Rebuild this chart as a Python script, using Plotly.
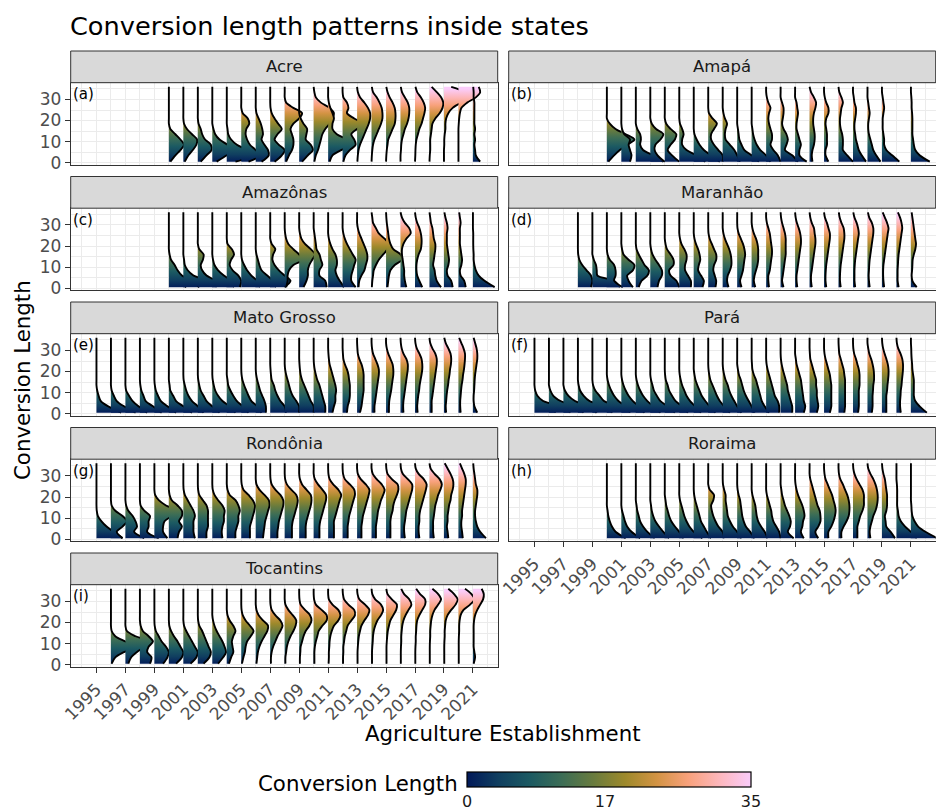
import plotly.graph_objects as go

# ---------------- data ----------------
# conversion-length knots (y) at which density half-widths (in x = year units) were read
Y_KNOTS = [0.5, 3.5, 6, 8.5, 11, 13.5, 16, 18.5, 21, 23.5, 26, 28.5, 31, 33.5, 36]

STATES = ["Acre", "Amapá", "Amazônas", "Maranhão", "Mato Grosso",
          "Pará", "Rondônia", "Roraima", "Tocantins"]
PANEL_TAGS = ["(a)", "(b)", "(c)", "(d)", "(e)", "(f)", "(g)", "(h)", "(i)"]

X_TICKS = [1995, 1997, 1999, 2001, 2003, 2005, 2007, 2009, 2011, 2013, 2015, 2017, 2019, 2021]
Y_TICKS = [0, 10, 20, 30]
CBAR_TICKS = [0, 17, 35]

ACRE_YEARS = list(range(2000, 2022))
ACRE = [
    [0.1, 0.45, 0.8, 1.05, 0.8, 0.45, 0.1],
    [0.1, 0.35, 0.65, 0.9, 0.95, 0.6, 0.25, 0.05],
    [0.2, 0.6, 0.95, 0.9, 0.5, 0.3, 0.2, 0.05],
    [0.3, 1.0, 1.5, 1.05, 0.5, 0.2, 0.08],
    [0.6, 1.8, 1.4, 0.7, 0.3, 0.1, 0.05],
    [0.5, 1.3, 1.0, 0.6, 0.4, 0.3, 0.35, 0.55, 0.45, 0.1],
    [0.4, 0.9, 0.85, 0.6, 0.4, 0.5, 0.45, 0.35, 0.2, 0.05],
    [0.3, 0.8, 1.0, 0.6, 0.3, 0.5, 0.8, 0.55, 0.3, 0.1, 0.02],
    [0.1, 0.3, 0.5, 0.6, 0.6, 0.5, 0.4, 0.6, 1.0, 1.2, 0.6, 0.1],
    [0.2, 0.6, 0.95, 0.8, 0.45, 0.5, 0.55, 0.3, 0.1],
    [0.05, 0.15, 0.3, 0.4, 0.5, 0.6, 0.8, 1.1, 1.3, 1.4, 1.1, 0.5, 0.15, 0.05],
    [0.1, 0.3, 0.9, 1.6, 1.3, 0.6, 0.3, 0.3, 0.4, 0.3, 0.15, 0.05],
    [0.05, 0.2, 0.5, 0.9, 0.8, 0.6, 1.0, 1.4, 0.8, 0.3, 0.4, 0.3, 0.05],
    [0.02, 0.05, 0.1, 0.2, 0.35, 0.5, 0.65, 0.8, 0.9, 0.9, 0.75, 0.5, 0.2, 0.05],
    [0, 0.02, 0.05, 0.1, 0.2, 0.35, 0.5, 0.65, 0.75, 0.75, 0.7, 0.55, 0.35, 0.1, 0.02],
    [0, 0.02, 0.05, 0.1, 0.15, 0.3, 0.45, 0.6, 0.65, 0.65, 0.6, 0.45, 0.25, 0.1, 0.02],
    [0, 0, 0.03, 0.05, 0.1, 0.2, 0.3, 0.45, 0.55, 0.6, 0.6, 0.5, 0.3, 0.1, 0.02],
    [0, 0.02, 0.03, 0.05, 0.1, 0.2, 0.3, 0.45, 0.55, 0.65, 0.7, 0.6, 0.4, 0.15, 0.03],
    [0, 0.02, 0.05, 0.05, 0.05, 0.1, 0.15, 0.2, 0.4, 0.7, 0.9, 0.95, 0.8, 0.5, 0.15],
    [0, 0, 0, 0.02, 0.02, 0.05, 0.1, 0.1, 0.15, 0.3, 0.6, 1.2, 2.0, 1.5, 0.5],
    [0, 0, 0, 0, 0, 0, 0, 0.02, 0.05, 0.1, 0.2, 0.6, 1.2, 1.5, 1.4],
    [0.5, 0.2, 0.15, 0.1, 0.15, 0.1, 0.15, 0.1, 0.1, 0.1, 0.1, 0.1, 0.05, 0.05, 0.02],
]

AMAPA_YEARS = list(range(2000, 2020)) + [2021]
AMAPA = [
    [0.1, 0.5, 0.9, 1.4, 1.9, 1.3, 0.6, 0.2],
    [0.6, 0.7, 0.6, 0.5, 0.6, 0.2, 0.05],
    [1.9, 1.2, 0.5, 0.3, 0.35, 0.3, 0.1],
    [1.0, 0.5, 0.3, 0.35, 0.7, 0.9, 0.4, 0.1],
    [1.0, 0.5, 0.2, 0.4, 0.7, 0.8, 0.4, 0.1],
    [1.8, 1.2, 0.5, 0.2, 0.2, 0.3, 0.2, 0.05],
    [1.8, 1.2, 0.7, 0.4, 0.2, 0.05],
    [1.0, 1.0, 0.7, 0.4, 0.2, 0.2, 0.4, 0.6, 0.3, 0.05],
    [1.2, 1.0, 0.8, 0.5, 0.2, 0.15, 0.2, 0.3, 0.15, 0.05],
    [1.5, 1.0, 0.5, 0.3, 0.15, 0.1, 0.05],
    [1.3, 1.0, 0.6, 0.35, 0.2, 0.1, 0.05],
    [1.0, 0.8, 0.5, 0.3, 0.4, 0.4, 0.3, 0.2, 0.15, 0.2, 0.3, 0.15, 0.05],
    [1.2, 0.8, 0.3, 0.4, 0.5, 0.4, 0.2, 0.1, 0.15, 0.2, 0.2, 0.1],
    [0.8, 0.3, 0.3, 0.4, 0.3, 0.2, 0.1, 0.1, 0.15, 0.2, 0.15, 0.1],
    [0.2, 0.15, 0.2, 0.3, 0.35, 0.35, 0.3, 0.25, 0.25, 0.3, 0.4, 0.45, 0.3, 0.1],
    [0.3, 0.1, 0.1, 0.2, 0.2, 0.2, 0.15, 0.1, 0.15, 0.3, 0.3, 0.15, 0.05],
    [1.0, 0.6, 0.3, 0.3, 0.3, 0.25, 0.15, 0.1, 0.1, 0.15, 0.2, 0.3, 0.2, 0.05],
    [0.9, 0.6, 0.4, 0.3, 0.2, 0.15, 0.1, 0.1, 0.15, 0.2, 0.2, 0.1, 0.05],
    [0.9, 0.6, 0.4, 0.3, 0.2, 0.1, 0.05, 0.05, 0.1, 0.15, 0.1, 0.05],
    [1.2, 0.7, 0.3, 0.15, 0.15, 0.1, 0.05, 0.05, 0.05, 0.1, 0.15, 0.1, 0.05],
    [1.3, 0.6, 0.3, 0.2, 0.15, 0.1, 0.1, 0.1, 0.1, 0.08, 0.05, 0.05, 0.03],
]

AMAZONAS_YEARS = list(range(2000, 2022))
AMAZONAS = [
    [1.1, 1.5, 0.9, 0.6, 0.4, 0.15, 0.05],
    [1.0, 1.5, 0.7, 0.3, 0.1, 0.05],
    [1.3, 1.2, 0.6, 0.3, 0.2, 0.35, 0.4, 0.1],
    [1.5, 1.3, 0.8, 0.4, 0.15, 0.05],
    [0.9, 1.0, 0.8, 0.4, 0.2, 0.3, 0.5, 0.35, 0.05],
    [1.3, 1.1, 0.7, 0.4, 0.2, 0.05],
    [1.4, 1.2, 0.8, 0.4, 0.25, 0.15, 0.05],
    [1.0, 1.4, 1.0, 0.6, 0.3, 0.15, 0.2, 0.35, 0.1],
    [0.1, 0.2, 0.2, 0.3, 0.6, 1.3, 1.0, 0.6, 0.25, 0.1, 0.03],
    [0.3, 0.5, 0.6, 0.6, 0.7, 0.9, 1.1, 0.8, 0.4, 0.15, 0.05],
    [0.9, 0.8, 0.4, 0.4, 0.6, 0.5, 0.4, 0.2, 0.15, 0.1, 0.05],
    [1.1, 0.8, 0.6, 0.5, 0.6, 0.6, 0.5, 0.3, 0.15, 0.05],
    [0.9, 0.6, 0.6, 0.7, 0.8, 0.9, 0.7, 0.5, 0.3, 0.15, 0.05],
    [0.1, 0.15, 0.3, 0.5, 0.6, 0.7, 0.7, 0.6, 0.45, 0.3, 0.15, 0.05],
    [0.02, 0.05, 0.1, 0.15, 0.3, 0.5, 0.8, 1.1, 1.2, 0.9, 0.5, 0.3, 0.1, 0.05],
    [0.1, 0.15, 0.2, 0.3, 0.6, 1.1, 1.0, 0.5, 0.3, 0.2, 0.15, 0.1, 0.05, 0.02],
    [0.4, 0.3, 0.25, 0.25, 0.2, 0.15, 0.1, 0.1, 0.2, 0.4, 0.7, 0.6, 0.3, 0.1],
    [0.5, 0.3, 0.15, 0.1, 0.1, 0.15, 0.25, 0.4, 0.45, 0.45, 0.4, 0.3, 0.15, 0.05],
    [0.8, 0.5, 0.4, 0.35, 0.25, 0.3, 0.35, 0.4, 0.4, 0.3, 0.25, 0.2, 0.1, 0.05],
    [0.6, 0.5, 0.25, 0.2, 0.3, 0.35, 0.3, 0.25, 0.2, 0.2, 0.2, 0.25, 0.2, 0.1, 0.03],
    [0.5, 0.4, 0.15, 0.1, 0.2, 0.25, 0.2, 0.15, 0.1, 0.1, 0.1, 0.1, 0.15, 0.1, 0.05],
    [1.5, 0.8, 0.4, 0.2, 0.1, 0.05, 0.05, 0.03, 0.02, 0.02, 0.02],
]

MARANHAO_YEARS = list(range(1998, 2022))
MARANHAO = [
    [0.9, 1.0, 0.9, 0.6, 0.3, 0.1, 0.02],
    [1.9, 1.5, 0.35, 0.3, 0.25, 0.1],
    [1.1, 0.5, 0.6, 0.6, 0.5, 0.2, 0.05],
    [0.8, 0.5, 0.4, 0.8, 0.9, 0.5, 0.15, 0.05],
    [0.2, 0.4, 0.8, 0.9, 0.6, 0.4, 0.2, 0.05],
    [0.5, 0.6, 0.8, 0.8, 0.6, 0.35, 0.15, 0.05],
    [1.0, 0.8, 0.4, 0.3, 0.6, 0.6, 0.4, 0.15, 0.05],
    [0.8, 0.8, 0.6, 0.4, 0.4, 0.5, 0.5, 0.35, 0.15, 0.05],
    [0.6, 0.7, 0.5, 0.3, 0.35, 0.45, 0.4, 0.3, 0.15, 0.05],
    [0.5, 0.55, 0.45, 0.35, 0.4, 0.55, 0.55, 0.4, 0.25, 0.1, 0.02],
    [0.4, 0.3, 0.35, 0.5, 0.6, 0.6, 0.55, 0.45, 0.3, 0.15, 0.05],
    [0.3, 0.2, 0.3, 0.4, 0.45, 0.5, 0.55, 0.5, 0.4, 0.25, 0.1, 0.02],
    [0.25, 0.15, 0.2, 0.3, 0.4, 0.45, 0.45, 0.45, 0.4, 0.3, 0.15, 0.05],
    [0.2, 0.15, 0.15, 0.25, 0.3, 0.35, 0.4, 0.4, 0.35, 0.3, 0.25, 0.15, 0.05],
    [0.2, 0.1, 0.15, 0.2, 0.25, 0.3, 0.35, 0.35, 0.35, 0.35, 0.3, 0.2, 0.1, 0.03],
    [0.15, 0.1, 0.1, 0.15, 0.2, 0.25, 0.3, 0.35, 0.4, 0.4, 0.35, 0.25, 0.12, 0.04],
    [0.15, 0.1, 0.1, 0.15, 0.2, 0.25, 0.3, 0.35, 0.4, 0.4, 0.35, 0.3, 0.15, 0.05],
    [0.15, 0.1, 0.1, 0.12, 0.15, 0.2, 0.25, 0.3, 0.35, 0.4, 0.4, 0.3, 0.2, 0.06],
    [0.15, 0.1, 0.1, 0.12, 0.15, 0.2, 0.25, 0.3, 0.35, 0.4, 0.4, 0.35, 0.2, 0.08, 0.02],
    [0.15, 0.1, 0.1, 0.1, 0.12, 0.15, 0.2, 0.25, 0.3, 0.35, 0.4, 0.35, 0.25, 0.1, 0.02],
    [0.15, 0.1, 0.08, 0.1, 0.12, 0.15, 0.2, 0.25, 0.3, 0.35, 0.4, 0.4, 0.3, 0.12, 0.03],
    [0.15, 0.1, 0.08, 0.08, 0.1, 0.15, 0.2, 0.25, 0.3, 0.35, 0.4, 0.45, 0.35, 0.2, 0.05],
    [0.15, 0.08, 0.08, 0.08, 0.1, 0.12, 0.15, 0.2, 0.25, 0.3, 0.35, 0.4, 0.35, 0.25, 0.1],
    [0.4, 0.1, 0.05, 0.08, 0.1, 0.12, 0.2, 0.3, 0.35, 0.3, 0.25, 0.2, 0.15, 0.1, 0.05],
]

MATO_GROSSO_YEARS = list(range(1995, 2022))
MATO_GROSSO = [
    [1.7, 0.8, 0.3, 0.15, 0.05],
    [1.7, 0.9, 0.4, 0.2, 0.05],
    [1.5, 0.9, 0.5, 0.25, 0.05],
    [1.5, 0.9, 0.4, 0.25, 0.1, 0.03],
    [1.5, 0.9, 0.45, 0.25, 0.1, 0.03],
    [1.6, 1.0, 0.5, 0.3, 0.1, 0.05],
    [1.4, 1.0, 0.6, 0.35, 0.2, 0.1, 0.02],
    [1.5, 1.0, 0.6, 0.4, 0.2, 0.1, 0.03],
    [1.6, 1.2, 0.7, 0.4, 0.2, 0.1, 0.03],
    [1.5, 1.1, 0.7, 0.45, 0.25, 0.1, 0.05],
    [1.4, 1.1, 0.7, 0.5, 0.35, 0.2, 0.08, 0.02],
    [0.7, 0.7, 0.6, 0.45, 0.3, 0.2, 0.1, 0.03],
    [1.1, 1.0, 0.7, 0.5, 0.35, 0.25, 0.1, 0.05, 0.02],
    [1.0, 1.0, 0.8, 0.55, 0.4, 0.3, 0.2, 0.1, 0.03],
    [1.0, 1.0, 0.8, 0.65, 0.5, 0.35, 0.2, 0.1, 0.05, 0.02],
    [0.8, 0.8, 0.7, 0.6, 0.5, 0.4, 0.25, 0.15, 0.07, 0.02],
    [0.3, 0.4, 0.5, 0.5, 0.55, 0.5, 0.4, 0.3, 0.2, 0.1, 0.05, 0.02],
    [0.3, 0.35, 0.45, 0.5, 0.5, 0.5, 0.45, 0.4, 0.3, 0.15, 0.05, 0.02],
    [0.2, 0.3, 0.35, 0.4, 0.45, 0.45, 0.45, 0.45, 0.4, 0.3, 0.15, 0.05, 0.02],
    [0.2, 0.2, 0.25, 0.3, 0.35, 0.4, 0.45, 0.5, 0.5, 0.4, 0.25, 0.1, 0.03],
    [0.2, 0.2, 0.22, 0.28, 0.35, 0.4, 0.45, 0.5, 0.5, 0.45, 0.3, 0.15, 0.05],
    [0.2, 0.18, 0.2, 0.25, 0.3, 0.35, 0.4, 0.45, 0.5, 0.5, 0.4, 0.2, 0.08, 0.02],
    [0.18, 0.15, 0.18, 0.22, 0.28, 0.32, 0.38, 0.45, 0.5, 0.5, 0.45, 0.3, 0.12, 0.03],
    [0.15, 0.15, 0.15, 0.2, 0.25, 0.3, 0.35, 0.4, 0.45, 0.5, 0.5, 0.4, 0.2, 0.05],
    [0.15, 0.12, 0.15, 0.18, 0.22, 0.28, 0.32, 0.38, 0.42, 0.48, 0.5, 0.45, 0.3, 0.12, 0.02],
    [0.15, 0.12, 0.12, 0.15, 0.18, 0.22, 0.28, 0.32, 0.38, 0.42, 0.45, 0.45, 0.35, 0.2, 0.05],
    [0.3, 0.1, 0.05, 0.05, 0.08, 0.1, 0.12, 0.15, 0.2, 0.25, 0.3, 0.3, 0.25, 0.15, 0.05],
]

PARA_YEARS = list(range(1995, 2022))
PARA = [
    [1.4, 1.5, 0.6, 0.2, 0.05],
    [1.4, 1.6, 0.8, 0.3, 0.1],
    [1.3, 1.6, 0.8, 0.35, 0.1],
    [1.2, 1.6, 0.8, 0.4, 0.15, 0.05],
    [1.3, 1.5, 0.8, 0.5, 0.2, 0.05],
    [1.6, 1.3, 0.8, 0.5, 0.3, 0.15, 0.05],
    [1.6, 1.2, 0.8, 0.5, 0.3, 0.15, 0.05],
    [1.7, 1.2, 0.8, 0.5, 0.3, 0.15, 0.05],
    [1.7, 1.2, 0.7, 0.45, 0.25, 0.15, 0.05],
    [1.6, 1.2, 0.75, 0.5, 0.3, 0.2, 0.07, 0.02],
    [1.5, 1.1, 0.75, 0.5, 0.35, 0.2, 0.1, 0.03],
    [1.5, 1.1, 0.8, 0.55, 0.4, 0.25, 0.12, 0.05],
    [1.5, 1.1, 0.8, 0.6, 0.45, 0.3, 0.15, 0.07, 0.02],
    [1.3, 1.0, 0.8, 0.6, 0.45, 0.35, 0.2, 0.1, 0.03],
    [1.2, 1.0, 0.8, 0.6, 0.45, 0.35, 0.25, 0.12, 0.05],
    [1.2, 0.9, 0.7, 0.6, 0.5, 0.4, 0.3, 0.15, 0.05, 0.02],
    [0.9, 0.9, 0.8, 0.6, 0.5, 0.4, 0.3, 0.2, 0.1, 0.03],
    [0.8, 0.8, 0.7, 0.6, 0.5, 0.45, 0.35, 0.25, 0.15, 0.07, 0.02],
    [0.6, 0.7, 0.6, 0.55, 0.5, 0.45, 0.4, 0.3, 0.2, 0.1, 0.05],
    [0.5, 0.6, 0.55, 0.5, 0.5, 0.45, 0.45, 0.35, 0.25, 0.15, 0.05, 0.02],
    [0.4, 0.5, 0.5, 0.5, 0.5, 0.5, 0.45, 0.4, 0.3, 0.2, 0.1, 0.03],
    [0.4, 0.45, 0.45, 0.45, 0.45, 0.45, 0.45, 0.4, 0.35, 0.25, 0.15, 0.05, 0.02],
    [0.35, 0.4, 0.4, 0.4, 0.4, 0.45, 0.45, 0.45, 0.4, 0.3, 0.2, 0.08, 0.02],
    [0.3, 0.35, 0.35, 0.35, 0.38, 0.4, 0.45, 0.45, 0.42, 0.35, 0.25, 0.12, 0.05],
    [0.3, 0.3, 0.3, 0.3, 0.35, 0.38, 0.42, 0.45, 0.45, 0.4, 0.3, 0.18, 0.08, 0.02],
    [0.3, 0.25, 0.25, 0.28, 0.3, 0.35, 0.38, 0.42, 0.45, 0.45, 0.4, 0.28, 0.12, 0.03],
    [1.1, 0.6, 0.3, 0.2, 0.2, 0.2, 0.2, 0.15, 0.1, 0.08, 0.05, 0.03, 0.02],
]

RONDONIA_YEARS = list(range(1995, 2022))
RONDONIA = [
    [1.8, 1.2, 0.7, 0.35, 0.1, 0.02],
    [0.8, 0.4, 0.8, 1.1, 0.8, 0.3, 0.05],
    [1.3, 0.6, 0.8, 0.7, 0.5, 0.2, 0.05],
    [1.3, 0.5, 0.6, 0.6, 0.7, 0.3, 0.05],
    [0.9, 0.6, 0.6, 0.7, 1.2, 1.6, 0.8, 0.3, 0.05],
    [0.6, 0.7, 0.9, 0.7, 0.9, 0.9, 0.6, 0.2, 0.05],
    [0.8, 0.7, 0.7, 0.7, 0.8, 0.7, 0.5, 0.3, 0.1, 0.02],
    [0.6, 0.6, 0.7, 0.7, 0.7, 0.7, 0.6, 0.35, 0.1, 0.02],
    [0.7, 0.65, 0.7, 0.8, 0.8, 0.85, 0.7, 0.4, 0.15, 0.03],
    [0.6, 0.6, 0.7, 0.8, 0.8, 0.9, 0.8, 0.6, 0.2, 0.05],
    [0.6, 0.6, 0.6, 0.7, 0.8, 0.9, 0.95, 0.8, 0.5, 0.15, 0.03],
    [0.5, 0.55, 0.6, 0.65, 0.75, 0.85, 0.95, 0.9, 0.6, 0.25, 0.05],
    [0.5, 0.5, 0.55, 0.6, 0.7, 0.8, 0.9, 0.9, 0.7, 0.35, 0.1, 0.02],
    [0.5, 0.5, 0.5, 0.55, 0.65, 0.75, 0.85, 0.9, 0.8, 0.45, 0.15, 0.03],
    [0.45, 0.45, 0.45, 0.5, 0.6, 0.7, 0.8, 0.85, 0.8, 0.5, 0.2, 0.05],
    [0.4, 0.4, 0.4, 0.45, 0.55, 0.65, 0.75, 0.85, 0.85, 0.6, 0.3, 0.08],
    [0.4, 0.4, 0.4, 0.4, 0.5, 0.6, 0.7, 0.8, 0.9, 0.7, 0.35, 0.1, 0.02],
    [0.35, 0.35, 0.35, 0.4, 0.45, 0.55, 0.65, 0.75, 0.85, 0.8, 0.5, 0.15, 0.03],
    [0.3, 0.3, 0.3, 0.35, 0.4, 0.5, 0.6, 0.7, 0.8, 0.85, 0.6, 0.25, 0.05],
    [0.3, 0.3, 0.3, 0.35, 0.4, 0.45, 0.55, 0.65, 0.8, 0.9, 0.7, 0.35, 0.08],
    [0.3, 0.3, 0.3, 0.3, 0.35, 0.45, 0.5, 0.6, 0.75, 0.85, 0.8, 0.4, 0.1, 0.02],
    [0.3, 0.25, 0.25, 0.3, 0.35, 0.4, 0.5, 0.6, 0.7, 0.8, 0.8, 0.5, 0.15, 0.03],
    [0.3, 0.25, 0.25, 0.3, 0.3, 0.35, 0.45, 0.55, 0.65, 0.75, 0.8, 0.6, 0.25, 0.05],
    [0.3, 0.25, 0.25, 0.25, 0.3, 0.35, 0.4, 0.5, 0.6, 0.75, 0.85, 0.7, 0.35, 0.08],
    [0.3, 0.25, 0.2, 0.25, 0.25, 0.3, 0.35, 0.45, 0.5, 0.6, 0.65, 0.6, 0.45, 0.25, 0.05],
    [0.3, 0.25, 0.2, 0.2, 0.25, 0.25, 0.3, 0.35, 0.4, 0.45, 0.5, 0.5, 0.4, 0.25, 0.1],
    [0.9, 0.5, 0.3, 0.2, 0.15, 0.15, 0.2, 0.25, 0.3, 0.3, 0.2, 0.15, 0.1, 0.05, 0.02],
]

RORAIMA_YEARS = list(range(2000, 2022))
RORAIMA = [
    [1.3, 0.6, 0.35, 0.2, 0.1, 0.05],
    [1.3, 0.7, 0.4, 0.25, 0.15, 0.05],
    [1.3, 0.8, 0.5, 0.3, 0.2, 0.1, 0.05],
    [1.3, 0.9, 0.6, 0.35, 0.2, 0.1, 0.05],
    [1.3, 1.0, 0.7, 0.45, 0.3, 0.2, 0.1, 0.05],
    [1.6, 1.0, 0.7, 0.5, 0.35, 0.25, 0.15, 0.05],
    [1.2, 0.9, 0.7, 0.5, 0.4, 0.3, 0.2, 0.1, 0.03],
    [1.1, 1.0, 0.7, 0.5, 0.35, 0.25, 0.2, 0.35, 0.4, 0.1],
    [1.3, 1.0, 0.7, 0.5, 0.35, 0.3, 0.25, 0.2, 0.2, 0.1, 0.02],
    [1.2, 0.9, 0.6, 0.45, 0.35, 0.3, 0.25, 0.2, 0.1, 0.03],
    [1.1, 0.9, 0.65, 0.45, 0.35, 0.3, 0.25, 0.15, 0.05],
    [1.0, 0.9, 0.7, 0.5, 0.4, 0.35, 0.25, 0.15, 0.05],
    [0.9, 0.5, 0.65, 0.7, 0.6, 0.45, 0.3, 0.2, 0.1, 0.05],
    [0.6, 0.4, 0.5, 0.55, 0.65, 0.6, 0.5, 0.35, 0.2, 0.1, 0.03],
    [0.6, 0.4, 0.6, 0.75, 0.75, 0.7, 0.55, 0.45, 0.35, 0.25, 0.15, 0.05],
    [0.3, 0.3, 0.5, 0.65, 0.75, 0.8, 0.75, 0.65, 0.55, 0.4, 0.25, 0.1, 0.03],
    [0.2, 0.2, 0.35, 0.55, 0.7, 0.75, 0.75, 0.7, 0.6, 0.45, 0.3, 0.12, 0.03],
    [0.3, 0.3, 0.3, 0.4, 0.5, 0.65, 0.75, 0.75, 0.75, 0.65, 0.45, 0.25, 0.1, 0.02],
    [0.2, 0.15, 0.2, 0.3, 0.4, 0.55, 0.65, 0.7, 0.7, 0.65, 0.55, 0.4, 0.2, 0.05],
    [0.9, 0.6, 0.3, 0.25, 0.2, 0.3, 0.35, 0.35, 0.35, 0.3, 0.25, 0.2, 0.1, 0.03],
    [1.4, 1.0, 0.6, 0.3, 0.15, 0.1, 0.05, 0.05, 0.05, 0.05, 0.03],
    [1.8, 1.0, 0.5, 0.25, 0.1, 0.05, 0.03],
]

TOCANTINS_YEARS = list(range(1996, 2022))
TOCANTINS = [
    [0.05, 0.3, 0.9, 1.7, 1.0, 0.3, 0.05],
    [0.2, 0.4, 0.8, 1.3, 1.6, 0.7, 0.1],
    [0.7, 0.8, 0.5, 0.6, 0.9, 0.6, 0.2, 0.05],
    [0.6, 0.9, 1.0, 0.8, 0.5, 0.3, 0.1, 0.02],
    [0.5, 0.9, 1.0, 0.8, 0.6, 0.35, 0.15, 0.03],
    [0.5, 0.9, 1.0, 0.8, 0.6, 0.4, 0.2, 0.05],
    [0.4, 0.8, 0.9, 0.75, 0.6, 0.45, 0.3, 0.1, 0.02],
    [0.4, 0.75, 0.95, 0.85, 0.7, 0.5, 0.3, 0.15, 0.05],
    [0.15, 0.3, 0.45, 0.4, 0.35, 0.45, 0.6, 0.45, 0.2, 0.05],
    [0.05, 0.15, 0.25, 0.3, 0.4, 0.65, 0.85, 0.6, 0.3, 0.1, 0.02],
    [0.05, 0.1, 0.15, 0.25, 0.4, 0.6, 0.8, 0.85, 0.5, 0.2, 0.05],
    [0.05, 0.05, 0.1, 0.2, 0.35, 0.5, 0.7, 0.85, 0.7, 0.35, 0.1, 0.02],
    [0.05, 0.05, 0.1, 0.15, 0.25, 0.4, 0.6, 0.75, 0.8, 0.55, 0.25, 0.05],
    [0.05, 0.05, 0.08, 0.1, 0.2, 0.3, 0.45, 0.7, 0.85, 0.75, 0.4, 0.1, 0.02],
    [0.05, 0.05, 0.05, 0.08, 0.15, 0.25, 0.35, 0.6, 0.9, 0.9, 0.55, 0.15, 0.03],
    [0.03, 0.05, 0.05, 0.08, 0.1, 0.15, 0.25, 0.4, 0.7, 0.85, 0.7, 0.3, 0.05],
    [0.03, 0.03, 0.05, 0.05, 0.1, 0.15, 0.25, 0.35, 0.6, 0.85, 0.8, 0.4, 0.1, 0.02],
    [0.03, 0.03, 0.03, 0.05, 0.08, 0.12, 0.2, 0.3, 0.5, 0.75, 0.85, 0.55, 0.15, 0.03],
    [0.03, 0.03, 0.03, 0.05, 0.08, 0.1, 0.15, 0.25, 0.4, 0.65, 0.8, 0.65, 0.25, 0.05],
    [0.03, 0.03, 0.03, 0.03, 0.05, 0.08, 0.12, 0.2, 0.3, 0.5, 0.7, 0.75, 0.4, 0.1, 0.02],
    [0.02, 0.02, 0.02, 0.03, 0.05, 0.05, 0.08, 0.12, 0.2, 0.35, 0.55, 0.75, 0.6, 0.25, 0.05],
    [0.02, 0.02, 0.02, 0.03, 0.05, 0.05, 0.08, 0.1, 0.15, 0.3, 0.5, 0.7, 0.7, 0.35, 0.08],
    [0.02, 0.02, 0.02, 0.02, 0.03, 0.05, 0.05, 0.08, 0.12, 0.2, 0.35, 0.6, 0.8, 0.6, 0.2],
    [0.02, 0.02, 0.02, 0.02, 0.03, 0.05, 0.05, 0.08, 0.12, 0.25, 0.5, 0.8, 0.95, 0.7, 0.3],
    [0.02, 0.02, 0.02, 0.02, 0.02, 0.03, 0.05, 0.05, 0.08, 0.15, 0.35, 0.8, 1.1, 0.9, 0.45],
    [0.05, 0.15, 0.1, 0.05, 0.05, 0.05, 0.05, 0.05, 0.08, 0.15, 0.3, 0.5, 0.7, 0.75, 0.6],
]

PANEL_DATA = [
    (ACRE_YEARS, ACRE), (AMAPA_YEARS, AMAPA), (AMAZONAS_YEARS, AMAZONAS),
    (MARANHAO_YEARS, MARANHAO), (MATO_GROSSO_YEARS, MATO_GROSSO), (PARA_YEARS, PARA),
    (RONDONIA_YEARS, RONDONIA), (RORAIMA_YEARS, RORAIMA), (TOCANTINS_YEARS, TOCANTINS),
]

# batlow colour map
BATLOW = [
    [0.000, "#011959"], [0.111, "#103F60"], [0.222, "#1C5A62"], [0.333, "#3C6D56"],
    [0.444, "#687B3E"], [0.556, "#9D892B"], [0.667, "#D29343"], [0.778, "#F8A17B"],
    [0.889, "#FDB7BC"], [1.000, "#FACCFA"],
]

# ---------------- layout geometry (pixels) ----------------
W, H = 936, 812
FONT = "DejaVu Sans"
X_RANGE = [1993.22, 2022.71]
Y_RANGE = [-1.0, 37.95]
TICK_FONT = dict(size=17, color="#4D4D4D", family=FONT)


def px_x(v):
    return v / W


def px_y(v):
    return 1 - v / H


fig = go.Figure()
layout = {}
shapes = []
annotations = []

for i, (state, (years, widths)) in enumerate(zip(STATES, PANEL_DATA)):
    row, col = i // 2, i % 2
    x0 = 70.7 + 438 * col
    x1 = x0 + 427
    top = 82.7 + 125.5 * row
    bot = 164.8 + 125.5 * row
    k = i + 1
    xa = "x" if k == 1 else f"x{k}"
    ya = "y" if k == 1 else f"y{k}"
    xkey = "xaxis" if k == 1 else f"xaxis{k}"
    ykey = "yaxis" if k == 1 else f"yaxis{k}"
    show_x = i in (7, 8)
    show_y = col == 0
    layout[xkey] = dict(
        domain=[px_x(x0), px_x(x1)], anchor=ya, range=X_RANGE, automargin=False,
        tickmode="array", tickvals=X_TICKS, ticktext=[str(t) for t in X_TICKS],
        showticklabels=show_x, ticks="outside" if show_x else "", ticklen=5,
        tickwidth=1, tickcolor="#333333", tickangle=-45,
        tickfont=TICK_FONT,
        showgrid=True, gridcolor="#EBEBEB", gridwidth=1.1,
        minor=dict(tickmode="linear", tick0=1994, dtick=2, showgrid=True,
                   gridcolor="#EBEBEB", gridwidth=0.8, ticks=""),
        showline=True, mirror=True, linecolor="#333333", linewidth=1,
        zeroline=False, fixedrange=True,
    )
    layout[ykey] = dict(
        domain=[px_y(bot), px_y(top)], anchor=xa, range=Y_RANGE, automargin=False,
        tickmode="array", tickvals=Y_TICKS,
        showticklabels=show_y, ticks="outside" if show_y else "", ticklen=5,
        tickwidth=1, tickcolor="#333333",
        tickfont=TICK_FONT,
        showgrid=True, gridcolor="#EBEBEB", gridwidth=1.1,
        minor=dict(tickmode="array", tickvals=[5, 15, 25, 35], showgrid=True,
                   gridcolor="#EBEBEB", gridwidth=0.8, ticks=""),
        showline=True, mirror=True, linecolor="#333333", linewidth=1,
        zeroline=False, fixedrange=True,
    )
    # strip
    shapes.append(dict(type="rect", xref="paper", yref="paper",
                       x0=px_x(x0), x1=px_x(x1), y0=px_y(top), y1=px_y(top - 31.7),
                       fillcolor="#D9D9D9", line=dict(color="#333333", width=1)))
    annotations.append(dict(text=state, xref="paper", yref="paper",
                            x=px_x((x0 + x1) / 2), y=px_y(top - 16),
                            xanchor="center", yanchor="middle", showarrow=False,
                            font=dict(size=16.5, color="#1A1A1A", family=FONT)))
    annotations.append(dict(text=PANEL_TAGS[i], xref="paper", yref="paper",
                            x=px_x(x0), y=px_y(top + 11.5),
                            xanchor="left", yanchor="middle", showarrow=False,
                            font=dict(size=15, color="black", family=FONT)))

    for year, w in zip(years, widths):
        w = list(w) + [0] * (len(Y_KNOTS) - len(w))
        fig.add_trace(go.Scatter(
            x=[year, year], y=[Y_KNOTS[0], Y_KNOTS[-1]], mode="lines",
            line=dict(width=0, color="rgba(0,0,0,0)"),
            xaxis=xa, yaxis=ya, hoverinfo="skip", showlegend=False))
        fig.add_trace(go.Scatter(
            x=[year + v for v in w], y=Y_KNOTS, mode="lines",
            line=dict(color="black", width=1.9, shape="spline", smoothing=0.9),
            fill="tonextx",
            fillgradient=dict(type="vertical", colorscale=BATLOW, start=0, stop=35),
            xaxis=xa, yaxis=ya, hoverinfo="skip", showlegend=False))

# colour bar carrier
fig.add_trace(go.Scatter(
    x=[1980], y=[-50], mode="markers", xaxis="x", yaxis="y",
    marker=dict(color=[0], cmin=0, cmax=35, colorscale=BATLOW, showscale=True,
                colorbar=dict(orientation="h", x=px_x(609), xanchor="center",
                              y=px_y(772), yanchor="top",
                              len=284, lenmode="pixels", thickness=15,
                              thicknessmode="pixels", outlinewidth=1.2,
                              outlinecolor="black", xpad=0, ypad=0,
                              tickmode="array", tickvals=CBAR_TICKS, ticks="",
                              tickfont=dict(size=16, color="#1A1A1A", family=FONT))),
    hoverinfo="skip", showlegend=False))

annotations += [
    dict(text="Conversion length patterns inside states", xref="paper", yref="paper",
         x=px_x(68), y=px_y(26), xanchor="left", yanchor="middle", showarrow=False,
         font=dict(size=25.6, color="black", family=FONT)),
    dict(text="Conversion Length", xref="paper", yref="paper",
         x=px_x(22), y=px_y(380), xanchor="center", yanchor="middle", textangle=-90,
         showarrow=False, font=dict(size=21.3, color="black", family=FONT)),
    dict(text="Agriculture Establishment", xref="paper", yref="paper",
         x=px_x(503), y=px_y(733), xanchor="center", yanchor="middle",
         showarrow=False, font=dict(size=21.3, color="black", family=FONT)),
    dict(text="Conversion Length", xref="paper", yref="paper",
         x=px_x(460), y=px_y(783), xanchor="right", yanchor="middle",
         showarrow=False, font=dict(size=21.3, color="black", family=FONT)),
]

fig.update_layout(
    width=W, height=H, margin=dict(l=0, r=0, t=0, b=0, autoexpand=False),
    paper_bgcolor="white", plot_bgcolor="white",
    font=dict(family=FONT), showlegend=False,
    shapes=shapes, annotations=annotations, **layout,
)

fig.write_html("out.html", config={"displayModeBar": False},
               post_script="document.body.style.margin='0';document.body.style.overflow='hidden';")
